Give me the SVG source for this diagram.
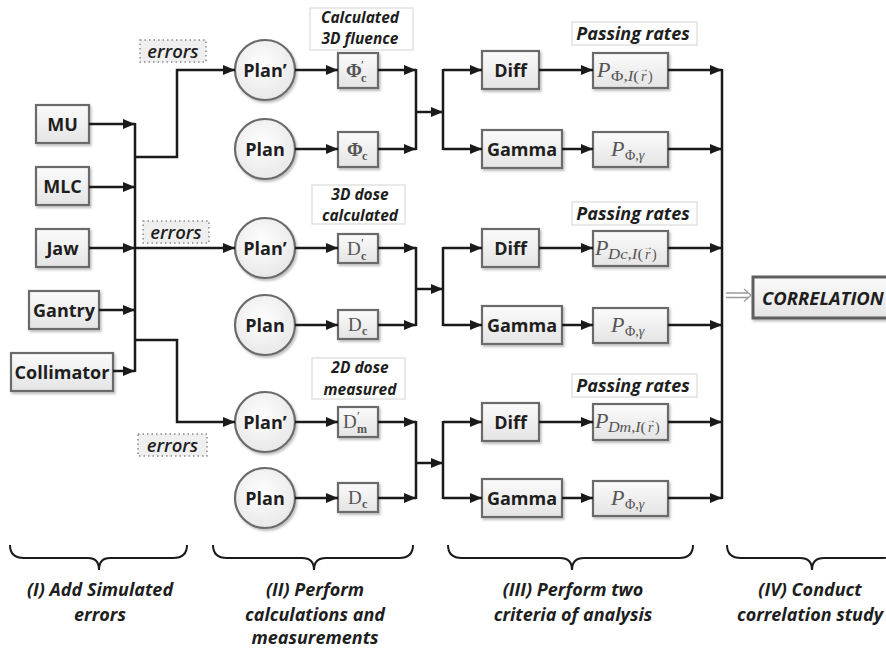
<svg xmlns="http://www.w3.org/2000/svg" width="886" height="648" viewBox="0 0 886 648">
<defs>
  <linearGradient id="gBox" x1="0" y1="0" x2="0" y2="1">
    <stop offset="0" stop-color="#fbfbfb"/>
    <stop offset="1" stop-color="#e4e4e4"/>
  </linearGradient>
  <radialGradient id="gCirc" cx="0.45" cy="0.4" r="0.65">
    <stop offset="0" stop-color="#ffffff"/>
    <stop offset="1" stop-color="#e6e6e6"/>
  </radialGradient>
  <filter id="sh" x="-20%" y="-20%" width="150%" height="150%">
    <feDropShadow dx="1.5" dy="2" stdDeviation="1.2" flood-color="#000" flood-opacity="0.25"/>
  </filter>
  <marker id="ah" viewBox="0 0 12 10" refX="12" refY="5" markerWidth="12" markerHeight="10" markerUnits="userSpaceOnUse" orient="auto">
    <path d="M0,0 L12,5 L0,10 z" fill="#1a1a1a"/>
  </marker>
  <style>
    .box{fill:url(#gBox);stroke:#6b6b6b;stroke-width:2.2;filter:url(#sh)}
    .circ{fill:url(#gCirc);stroke:#6b6b6b;stroke-width:2.2;filter:url(#sh)}
    .lbl{font-family:"Open Sans","Liberation Sans",sans-serif;font-weight:bold;font-size:18px;fill:#1e1e1e;text-anchor:middle}
    .m{font-family:"Liberation Serif","DejaVu Serif",serif;fill:#555}
    .note{font-family:"Open Sans","Liberation Sans",sans-serif;font-weight:bold;font-style:italic;font-size:15.5px;fill:#1e1e1e;text-anchor:middle}
    .pr{font-family:"Open Sans","Liberation Sans",sans-serif;font-weight:bold;font-style:italic;font-size:18px;fill:#1e1e1e;text-anchor:middle}
    .err{font-family:"Open Sans","Liberation Sans",sans-serif;font-weight:600;font-style:italic;font-size:18.5px;fill:#1e1e1e;text-anchor:middle}
    .errbox{fill:#efefef;stroke:#8a8a8a;stroke-width:1.5;stroke-dasharray:1.5 3}
    .notebg{fill:#ffffff;stroke:#e2e2e2;stroke-width:1.5}
    .cap{font-family:"Open Sans","Liberation Sans",sans-serif;font-weight:bold;font-style:italic;font-size:18px;fill:#1e1e1e;text-anchor:middle}
    .ln{fill:none;stroke:#1a1a1a;stroke-width:2.5}
    .arr{fill:none;stroke:#1a1a1a;stroke-width:2.5;marker-end:url(#ah)}
    .brace{fill:none;stroke:#1a1a1a;stroke-width:2}
  </style>
</defs>
<rect width="886" height="648" fill="#ffffff"/>

<!-- Stage I nodes -->
<g id="mu"><rect class="box" x="36" y="105" width="53" height="38"/><text class="lbl" x="62.5" y="130.5">MU</text></g>
<g id="mlc"><rect class="box" x="36" y="167" width="53" height="38"/><text class="lbl" x="62.5" y="192.5">MLC</text></g>
<g id="jaw"><rect class="box" x="36" y="229" width="53" height="38"/><text class="lbl" x="62.5" y="254.5">Jaw</text></g>
<g id="gantry"><rect class="box" x="29" y="291" width="70" height="38"/><text class="lbl" x="64" y="316.5">Gantry</text></g>
<g id="collimator"><rect class="box" x="11" y="353" width="102" height="38"/><text class="lbl" x="62" y="378.5">Collimator</text></g>

<!-- errors labels -->
<g id="errors1"><rect class="errbox" x="140" y="40" width="66" height="22"/><text class="err" x="173" y="57.5">errors</text></g>
<g id="errors2"><rect class="errbox" x="143" y="221" width="66" height="22"/><text class="err" x="176" y="238.5">errors</text></g>
<g id="errors3"><rect class="errbox" x="138" y="434" width="69" height="22"/><text class="err" x="172.5" y="451.5">errors</text></g>

<!-- Stage II nodes -->
<g id="planp1"><circle class="circ" cx="265" cy="70" r="30"/><text class="lbl" x="265" y="76.5">Plan’</text></g>
<g id="plan1"><circle class="circ" cx="265" cy="149" r="30"/><text class="lbl" x="265" y="155.5">Plan</text></g>
<g id="planp2"><circle class="circ" cx="265" cy="248" r="30"/><text class="lbl" x="265" y="254.5">Plan’</text></g>
<g id="plan2"><circle class="circ" cx="265" cy="325" r="30"/><text class="lbl" x="265" y="331.5">Plan</text></g>
<g id="planp3"><circle class="circ" cx="265" cy="422" r="30"/><text class="lbl" x="265" y="428.5">Plan’</text></g>
<g id="plan3"><circle class="circ" cx="265" cy="498" r="30"/><text class="lbl" x="265" y="504.5">Plan</text></g>

<g id="note1"><rect class="notebg" x="310" y="8" width="103" height="42"/><text class="note" x="360" y="23">Calculated</text><text class="note" x="360" y="44">3D fluence</text></g>
<g id="note2"><rect class="notebg" x="312" y="185" width="93" height="39"/><text class="note" x="360" y="200">3D dose</text><text class="note" x="360" y="221">calculated</text></g>
<g id="note3"><rect class="notebg" x="312" y="358" width="93" height="41"/><text class="note" x="360" y="373">2D dose</text><text class="note" x="360" y="395">measured</text></g>

<g id="phip"><rect class="box" x="338" y="53" width="40" height="35"/>
  <text class="m" x="346" y="77" font-size="19" font-weight="bold">Φ</text>
  <text class="m" x="361" y="69" font-size="13">′</text>
  <text class="m" x="361" y="82" font-size="12" font-weight="bold">c</text></g>
<g id="phi"><rect class="box" x="338" y="132" width="40" height="35"/>
  <text class="m" x="347" y="156" font-size="19" font-weight="bold">Φ</text>
  <text class="m" x="362" y="160" font-size="12" font-weight="bold">c</text></g>
<g id="dcp"><rect class="box" x="338" y="234" width="40" height="29"/>
  <text class="m" x="347" y="255" font-size="19">D</text>
  <text class="m" x="361" y="247" font-size="13">′</text>
  <text class="m" x="361" y="260" font-size="12" font-weight="bold">c</text></g>
<g id="dc"><rect class="box" x="338" y="310" width="40" height="29"/>
  <text class="m" x="348" y="331" font-size="19">D</text>
  <text class="m" x="362" y="335" font-size="12" font-weight="bold">c</text></g>
<g id="dmp"><rect class="box" x="338" y="407" width="40" height="30"/>
  <text class="m" x="343" y="428" font-size="19">D</text>
  <text class="m" x="357" y="420" font-size="13">′</text>
  <text class="m" x="357" y="433" font-size="12" font-weight="bold">m</text></g>
<g id="dc2"><rect class="box" x="338" y="483" width="40" height="29"/>
  <text class="m" x="348" y="504" font-size="19">D</text>
  <text class="m" x="362" y="508" font-size="12" font-weight="bold">c</text></g>

<!-- Stage III nodes -->
<g id="diff1"><rect class="box" x="482" y="51" width="57" height="38"/><text class="lbl" x="510.5" y="76.5">Diff</text></g>
<g id="gamma1"><rect class="box" x="482" y="130" width="80" height="38"/><text class="lbl" x="522" y="155.5">Gamma</text></g>
<g id="diff2"><rect class="box" x="482" y="229" width="57" height="38"/><text class="lbl" x="510.5" y="254.5">Diff</text></g>
<g id="gamma2"><rect class="box" x="482" y="306" width="80" height="38"/><text class="lbl" x="522" y="331.5">Gamma</text></g>
<g id="diff3"><rect class="box" x="482" y="403" width="57" height="38"/><text class="lbl" x="510.5" y="428.5">Diff</text></g>
<g id="gamma3"><rect class="box" x="482" y="479" width="80" height="38"/><text class="lbl" x="522" y="504.5">Gamma</text></g>

<g id="pr1"><rect class="notebg" x="572" y="22" width="125" height="23"/><text class="pr" x="633" y="40">Passing rates</text></g>
<g id="pr2"><rect class="notebg" x="572" y="202" width="125" height="23"/><text class="pr" x="633" y="220">Passing rates</text></g>
<g id="pr3"><rect class="notebg" x="572" y="374" width="125" height="23"/><text class="pr" x="633" y="392">Passing rates</text></g>

<g id="p1"><rect class="box" x="593" y="53" width="75" height="35"/>
  <text class="m" x="597" y="77" font-size="22" font-style="italic">P</text>
  <text class="m" x="611" y="81" font-size="14" textLength="28" lengthAdjust="spacingAndGlyphs">Φ,<tspan font-style="italic">I</tspan>(</text>
  <text class="m" x="641" y="81" font-size="14" font-style="italic">r</text>
  <text class="m" x="648" y="81" font-size="14">)</text>
  <text class="m" x="644" y="72" font-size="10" text-anchor="middle">→</text></g>
<g id="p2"><rect class="box" x="593" y="132" width="75" height="35"/>
  <text class="m" x="611" y="156" font-size="22" font-style="italic">P</text>
  <text class="m" x="625" y="160" font-size="14">Φ,<tspan font-style="italic">γ</tspan></text></g>
<g id="p3"><rect class="box" x="593" y="231" width="75" height="35"/>
  <text class="m" x="595" y="255" font-size="22" font-style="italic">P</text>
  <text class="m" x="608" y="259" font-size="14" font-style="italic" textLength="35" lengthAdjust="spacingAndGlyphs">Dc,I<tspan font-style="normal">(</tspan></text>
  <text class="m" x="645" y="259" font-size="14" font-style="italic">r</text>
  <text class="m" x="652" y="259" font-size="14">)</text>
  <text class="m" x="648" y="250" font-size="10" text-anchor="middle">→</text></g>
<g id="p4"><rect class="box" x="593" y="308" width="75" height="35"/>
  <text class="m" x="611" y="332" font-size="22" font-style="italic">P</text>
  <text class="m" x="625" y="336" font-size="14">Φ,<tspan font-style="italic">γ</tspan></text></g>
<g id="p5"><rect class="box" x="593" y="404" width="75" height="36"/>
  <text class="m" x="595" y="428" font-size="22" font-style="italic">P</text>
  <text class="m" x="608" y="432" font-size="14" font-style="italic" textLength="38" lengthAdjust="spacingAndGlyphs">Dm,I<tspan font-style="normal">(</tspan></text>
  <text class="m" x="648" y="432" font-size="14" font-style="italic">r</text>
  <text class="m" x="655" y="432" font-size="14">)</text>
  <text class="m" x="651" y="423" font-size="10" text-anchor="middle">→</text></g>
<g id="p6"><rect class="box" x="593" y="481" width="75" height="35"/>
  <text class="m" x="611" y="505" font-size="22" font-style="italic">P</text>
  <text class="m" x="625" y="509" font-size="14">Φ,<tspan font-style="italic">γ</tspan></text></g>

<!-- Stage IV -->
<g id="correlation"><rect x="753" y="277" width="145" height="41" fill="url(#gBox)" stroke="#5f5f5f" stroke-width="3" filter="url(#sh)"/><text x="762" y="304.5" font-family="'Open Sans','Liberation Sans',sans-serif" font-weight="bold" font-style="italic" font-size="18.5" fill="#1e1e1e">CORRELATION</text></g>

<!-- connectors -->
<g id="connectors">
  <path class="arr" d="M89,124 H135"/>
  <path class="arr" d="M89,187 H135"/>
  <path class="arr" d="M89,248 H135"/>
  <path class="arr" d="M99,310 H135"/>
  <path class="arr" d="M113,371 H135"/>
  <path class="ln" d="M135,123 V372"/>
  <path class="arr" d="M135,157 H177 V70 H235"/>
  <path class="arr" d="M135,248 H235"/>
  <path class="arr" d="M135,340 H177 V422 H235"/>

  <!-- group 1 -->
  <path class="arr" d="M295,70 H338"/>
  <path class="arr" d="M295,149 H338"/>
  <path class="arr" d="M378,70 H416"/>
  <path class="arr" d="M378,149 H416"/>
  <path class="ln" d="M416,69 V150"/>
  <path class="arr" d="M416,112 H443"/>
  <path class="ln" d="M443,69 V150"/>
  <path class="arr" d="M443,70 H482"/>
  <path class="arr" d="M443,149 H482"/>
  <path class="arr" d="M539,70 H593"/>
  <path class="arr" d="M562,149 H593"/>
  <path class="arr" d="M668,70 H722"/>
  <path class="arr" d="M668,149 H722"/>

  <!-- group 2 -->
  <path class="arr" d="M295,248 H338"/>
  <path class="arr" d="M295,325 H338"/>
  <path class="arr" d="M378,248 H416"/>
  <path class="arr" d="M378,325 H416"/>
  <path class="ln" d="M416,247 V326"/>
  <path class="arr" d="M416,289 H443"/>
  <path class="ln" d="M443,247 V326"/>
  <path class="arr" d="M443,248 H482"/>
  <path class="arr" d="M443,325 H482"/>
  <path class="arr" d="M539,248 H593"/>
  <path class="arr" d="M562,325 H593"/>
  <path class="arr" d="M668,248 H722"/>
  <path class="arr" d="M668,325 H722"/>

  <!-- group 3 -->
  <path class="arr" d="M295,422 H338"/>
  <path class="arr" d="M295,498 H338"/>
  <path class="arr" d="M378,422 H416"/>
  <path class="arr" d="M378,498 H416"/>
  <path class="ln" d="M416,421 V499"/>
  <path class="arr" d="M416,463 H443"/>
  <path class="ln" d="M443,421 V499"/>
  <path class="arr" d="M443,422 H482"/>
  <path class="arr" d="M443,498 H482"/>
  <path class="arr" d="M539,422 H593"/>
  <path class="arr" d="M562,498 H593"/>
  <path class="arr" d="M668,422 H722"/>
  <path class="arr" d="M668,498 H722"/>

  <path class="ln" d="M722,69 V499"/>
  <!-- hollow double arrow -->
  <path d="M726,293 H748 M726,297.5 H748 M744,289 L751,295.3 L744,301.5" fill="none" stroke="#9a9a9a" stroke-width="1.3"/>
</g>

<!-- braces -->
<g id="braces">
  <path class="brace" d="M10,545 Q10,558 24,558 H88 Q99,558 99,570 Q99,558 110,558 H173 Q187,558 187,545"/>
  <path class="brace" d="M213,545 Q213,558 227,558 H302 Q314,558 314,570 Q314,558 326,558 H399 Q413,558 413,545"/>
  <path class="brace" d="M448,545 Q448,558 462,558 H560 Q572,558 572,570 Q572,558 584,558 H679 Q693,558 693,545"/>
  <path class="brace" d="M727,545 Q727,558 741,558 H800 Q812,558 812,570 Q812,558 824,558 H883 Q897,558 897,545"/>
</g>

<g id="captions">
  <text class="cap" x="100" y="596">(I) Add Simulated</text>
  <text class="cap" x="100" y="621">errors</text>
  <text class="cap" x="315" y="596">(II) Perform</text>
  <text class="cap" x="315" y="621">calculations and</text>
  <text class="cap" x="315" y="644">measurements</text>
  <text class="cap" x="573" y="596">(III) Perform two</text>
  <text class="cap" x="573" y="621">criteria of analysis</text>
  <text class="cap" x="810" y="596">(IV) Conduct</text>
  <text class="cap" x="810" y="621">correlation study</text>
</g>
</svg>
